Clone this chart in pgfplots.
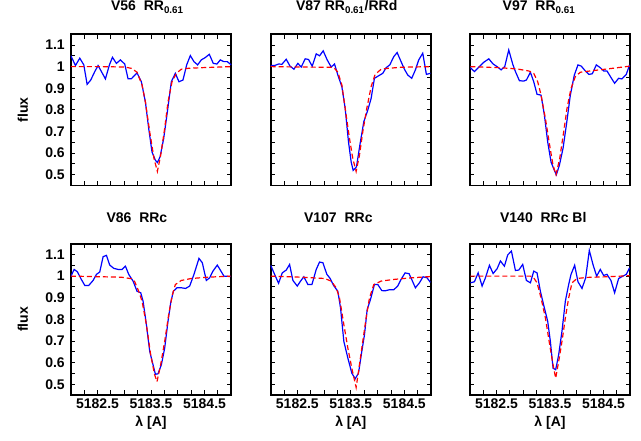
\documentclass[border=0pt]{standalone}
\usepackage{pgfplots}
\pgfplotsset{compat=1.18}
\usepackage{fontspec}
\setmainfont{Liberation Sans}

\definecolor{obsblue}{RGB}{0,0,255}
\definecolor{fitred}{RGB}{255,0,0}

\pgfplotsset{
  panel/.style={
    scale only axis, width=160.5pt, height=151.3pt,
    xmin=5182, xmax=5185, ymin=0.45, ymax=1.15,
    xtick={5182.5,5183.5,5184.5},
    minor xtick={5182.25,5182.75,5183,5183.25,5183.75,5184,5184.25,5184.75},
    ytick={0.5,0.6,0.7,0.8,0.9,1,1.1},
    minor ytick={0.55,0.65,0.75,0.85,0.95,1.05},
    major tick length=4.5pt, minor tick length=4.5pt,
    every tick/.style={black, line width=0.9pt},
    axis line style={line width=1.8pt},
    /pgf/number format/assume math mode=true,
    x tick label style={/pgf/number format/.cd, fixed, precision=1, 1000 sep={}},
    yticklabel style={xshift=-2.5pt},
    tick label style={font=\fontsize{14}{16}\selectfont\bfseries},
    label style={font=\fontsize{14}{16}\selectfont\bfseries},
    title style={font=\fontsize{14}{16}\selectfont\bfseries, anchor=base},
  },
  obs/.style={obsblue, line width=1.2pt, no marks},
  fit/.style={fitred, line width=1.2pt, no marks, dash pattern=on 5pt off 3pt},
  leftcol/.style={ylabel={flux}, ylabel style={at={(axis description cs:-0.298,0.5)}, anchor=center}},
  notlabels/.style={yticklabels={}},
  toprow/.style={xticklabels={}},
  botrow/.style={xlabel={λ [A]}, xlabel style={at={(axis description cs:0.5,-0.211)}, anchor=base}},
}

\begin{document}
\begin{tikzpicture}
\path[use as bounding box] (0,0) rectangle (641pt,441pt);

% V56
\begin{axis}[panel, leftcol, toprow, at={(70.8pt,255.5pt)}, anchor=south west,
  title={V56~~RR\textsubscript{0.61}}, title style={at={(axis description cs:0.477,1.114)}}]
\addplot[obs] coordinates {
(5182.000,1.051)(5182.087,1.005)(5182.168,1.039)(5182.243,1.008)(5182.305,0.918)
(5182.373,0.938)(5182.448,0.977)(5182.510,1.005)(5182.579,0.974)(5182.647,0.943)
(5182.722,1.008)(5182.778,1.043)(5182.853,1.015)(5182.927,1.031)(5183.008,1.012)
(5183.070,0.944)(5183.133,0.944)(5183.238,0.971)(5183.319,0.930)(5183.394,0.837)
(5183.456,0.714)(5183.518,0.605)(5183.581,0.567)(5183.618,0.556)(5183.668,0.582)
(5183.736,0.667)(5183.805,0.791)(5183.879,0.930)(5183.954,0.969)(5184.022,0.930)
(5184.097,0.938)(5184.166,1.008)(5184.234,1.051)(5184.302,1.023)(5184.371,1.008)
(5184.439,1.031)(5184.514,1.042)(5184.589,1.057)(5184.663,1.015)(5184.732,1.012)
(5184.794,1.031)(5184.862,1.023)(5184.925,1.023)(5184.999,1.008)
};
\addplot[fit] coordinates {
(5182.000,1.000)(5182.572,1.000)(5183.008,0.998)(5183.133,0.992)(5183.238,0.974)
(5183.332,0.915)(5183.394,0.837)(5183.475,0.698)(5183.556,0.574)(5183.618,0.515)
(5183.680,0.590)(5183.755,0.714)(5183.817,0.837)(5183.892,0.930)(5183.973,0.969)
(5184.066,0.988)(5184.190,0.992)(5184.439,0.995)(5184.999,1.000)
};
\end{axis}

% V87
\begin{axis}[panel, notlabels, toprow, at={(270.6pt,255.5pt)}, anchor=south west,
  title={V87 RR\textsubscript{0.61}/RRd}, title style={at={(axis description cs:0.474,1.114)}}]
\addplot[obs] coordinates {
(5182.000,1.005)(5182.075,1.005)(5182.149,1.012)(5182.212,1.011)(5182.292,1.034)
(5182.361,1.003)(5182.436,0.988)(5182.510,1.015)(5182.572,0.998)(5182.647,1.036)
(5182.709,1.033)(5182.778,1.002)(5182.853,1.059)(5182.915,1.050)(5182.983,1.073)
(5183.058,1.031)(5183.133,0.998)(5183.195,1.012)(5183.257,0.961)(5183.332,0.907)
(5183.394,0.807)(5183.456,0.652)(5183.506,0.559)(5183.543,0.520)(5183.605,0.536)
(5183.668,0.636)(5183.742,0.745)(5183.817,0.799)(5183.879,0.853)(5183.941,0.946)
(5184.016,0.957)(5184.097,0.969)(5184.159,0.995)(5184.228,1.008)(5184.302,1.046)
(5184.365,1.065)(5184.439,1.023)(5184.501,0.988)(5184.564,0.961)(5184.638,0.946)
(5184.707,0.985)(5184.769,1.031)(5184.844,1.062)(5184.912,0.964)(5184.987,0.969)
};
\addplot[fit] coordinates {
(5182.000,1.000)(5182.572,0.998)(5183.133,0.997)(5183.195,0.992)(5183.257,0.974)
(5183.332,0.915)(5183.394,0.807)(5183.475,0.667)(5183.537,0.574)(5183.599,0.515)
(5183.661,0.590)(5183.723,0.698)(5183.798,0.807)(5183.879,0.907)(5183.954,0.964)
(5184.066,0.988)(5184.190,0.992)(5184.439,0.997)(5184.987,1.000)
};
\end{axis}

% V97
\begin{axis}[panel, notlabels, toprow, at={(469.8pt,255.5pt)}, anchor=south west,
  title={V97~~RR\textsubscript{0.61}}, title style={at={(axis description cs:0.431,1.114)}}]
\addplot[obs] coordinates {
(5182.012,0.995)(5182.087,0.977)(5182.168,0.997)(5182.261,1.020)(5182.355,1.036)
(5182.436,1.012)(5182.510,1.000)(5182.585,0.985)(5182.653,1.000)(5182.728,1.077)
(5182.803,1.011)(5182.853,0.977)(5182.927,0.935)(5183.008,0.933)(5183.058,0.938)
(5183.133,0.974)(5183.195,0.930)(5183.257,0.872)(5183.332,0.868)(5183.394,0.776)
(5183.456,0.652)(5183.518,0.559)(5183.581,0.520)(5183.618,0.500)(5183.674,0.543)
(5183.742,0.621)(5183.805,0.729)(5183.879,0.868)(5183.954,0.961)(5184.022,1.008)
(5184.085,1.002)(5184.159,0.980)(5184.228,0.964)(5184.290,0.967)(5184.365,1.008)
(5184.439,0.995)(5184.501,0.980)(5184.564,0.980)(5184.638,0.950)(5184.707,0.923)
(5184.782,0.946)(5184.844,0.943)(5184.925,0.964)(5184.987,1.008)
};
\addplot[fit] coordinates {
(5182.012,1.000)(5182.324,0.997)(5182.572,0.995)(5182.884,0.989)(5183.101,0.980)
(5183.195,0.969)(5183.269,0.930)(5183.332,0.868)(5183.413,0.760)(5183.493,0.636)
(5183.556,0.543)(5183.611,0.500)(5183.680,0.574)(5183.755,0.698)(5183.817,0.807)
(5183.892,0.899)(5183.973,0.954)(5184.066,0.974)(5184.253,0.980)(5184.564,0.989)
(5184.987,1.002)
};
\end{axis}

% V86
\begin{axis}[panel, leftcol, botrow, at={(70.8pt,46pt)}, anchor=south west,
  title={V86~~RRc}, title style={at={(axis description cs:0.412,1.099)}}]
\addplot[obs] coordinates {
(5182.000,0.998)(5182.062,1.031)(5182.124,1.020)(5182.187,0.989)(5182.261,0.957)
(5182.336,0.957)(5182.417,0.980)(5182.479,1.008)(5182.541,1.019)(5182.604,1.090)
(5182.666,1.096)(5182.728,1.051)(5182.803,1.036)(5182.884,1.031)(5182.958,1.031)
(5183.021,1.046)(5183.083,1.008)(5183.164,0.977)(5183.238,0.930)(5183.307,0.923)
(5183.351,0.884)(5183.413,0.776)(5183.475,0.652)(5183.537,0.590)(5183.581,0.546)
(5183.630,0.548)(5183.693,0.590)(5183.755,0.667)(5183.817,0.791)(5183.867,0.876)
(5183.917,0.930)(5183.985,0.946)(5184.066,0.946)(5184.147,0.943)(5184.222,0.954)
(5184.302,1.008)(5184.396,1.082)(5184.458,1.062)(5184.533,0.980)(5184.595,0.992)
(5184.657,1.023)(5184.738,1.051)(5184.800,1.026)(5184.862,1.000)(5184.987,0.998)
};
\addplot[fit] coordinates {
(5182.000,1.000)(5182.572,0.997)(5182.946,0.995)(5183.133,0.988)(5183.195,0.974)
(5183.269,0.930)(5183.332,0.884)(5183.413,0.776)(5183.493,0.636)(5183.568,0.543)
(5183.611,0.512)(5183.680,0.590)(5183.755,0.698)(5183.830,0.822)(5183.892,0.907)
(5183.954,0.961)(5184.066,0.980)(5184.253,0.989)(5184.564,0.995)(5184.987,1.000)
};
\end{axis}

% V107
\begin{axis}[panel, notlabels, botrow, at={(270.6pt,46pt)}, anchor=south west,
  title={V107~~RRc}, title style={at={(axis description cs:0.422,1.099)}}]
\addplot[obs] coordinates {
(5182.000,1.051)(5182.075,1.008)(5182.149,0.967)(5182.218,1.015)(5182.292,1.028)
(5182.355,1.054)(5182.417,0.980)(5182.498,0.954)(5182.560,0.977)(5182.622,0.997)
(5182.697,0.961)(5182.772,0.961)(5182.853,1.031)(5182.915,1.065)(5182.977,1.062)
(5183.052,1.008)(5183.114,0.989)(5183.176,0.957)(5183.257,0.930)(5183.307,0.853)
(5183.369,0.698)(5183.444,0.621)(5183.518,0.551)(5183.581,0.525)(5183.643,0.551)
(5183.705,0.652)(5183.755,0.729)(5183.805,0.845)(5183.867,0.892)(5183.941,0.961)
(5184.004,0.961)(5184.079,0.933)(5184.141,0.932)(5184.222,0.937)(5184.302,0.937)
(5184.377,0.954)(5184.439,0.985)(5184.514,1.015)(5184.589,1.011)(5184.651,0.977)
(5184.707,0.946)(5184.782,0.969)(5184.850,0.997)(5184.925,0.992)(5184.987,0.971)
};
\addplot[fit] coordinates {
(5182.000,1.000)(5182.572,0.995)(5183.008,0.989)(5183.133,0.977)(5183.226,0.946)
(5183.288,0.899)(5183.369,0.776)(5183.444,0.667)(5183.518,0.574)(5183.599,0.485)
(5183.661,0.590)(5183.723,0.698)(5183.786,0.807)(5183.848,0.899)(5183.929,0.961)
(5184.066,0.977)(5184.315,0.985)(5184.626,0.992)(5184.987,0.998)
};
\end{axis}

% V140
\begin{axis}[panel, notlabels, botrow, at={(469.8pt,46pt)}, anchor=south west,
  title={V140~~RRc Bl}, title style={at={(axis description cs:0.458,1.099)}}]
\addplot[obs] coordinates {
(5182.012,0.969)(5182.087,0.974)(5182.156,1.015)(5182.230,0.954)(5182.292,0.992)
(5182.367,1.050)(5182.436,1.012)(5182.510,1.034)(5182.572,1.070)(5182.647,1.046)
(5182.709,1.098)(5182.778,1.116)(5182.853,1.026)(5182.915,1.028)(5182.989,1.054)
(5183.058,0.980)(5183.133,0.969)(5183.195,1.023)(5183.257,1.015)(5183.319,0.930)
(5183.394,0.853)(5183.456,0.791)(5183.506,0.698)(5183.556,0.574)(5183.605,0.567)
(5183.661,0.636)(5183.723,0.745)(5183.786,0.884)(5183.848,0.961)(5183.892,1.008)
(5183.960,1.050)(5184.022,0.974)(5184.097,0.943)(5184.166,0.992)(5184.234,1.119)
(5184.302,1.054)(5184.371,1.000)(5184.439,1.031)(5184.501,1.003)(5184.564,1.008)
(5184.638,0.980)(5184.707,0.923)(5184.782,0.989)(5184.862,1.000)(5184.925,1.008)
(5184.987,1.039)
};
\addplot[fit] coordinates {
(5182.012,1.000)(5183.133,1.000)(5183.195,0.992)(5183.257,0.969)(5183.332,0.899)
(5183.413,0.807)(5183.493,0.683)(5183.556,0.590)(5183.605,0.528)(5183.661,0.605)
(5183.723,0.698)(5183.786,0.807)(5183.848,0.899)(5183.910,0.969)(5184.004,0.989)
(5184.190,0.994)(5184.564,0.997)(5184.987,1.002)
};
\end{axis}
\end{tikzpicture}
\end{document}
